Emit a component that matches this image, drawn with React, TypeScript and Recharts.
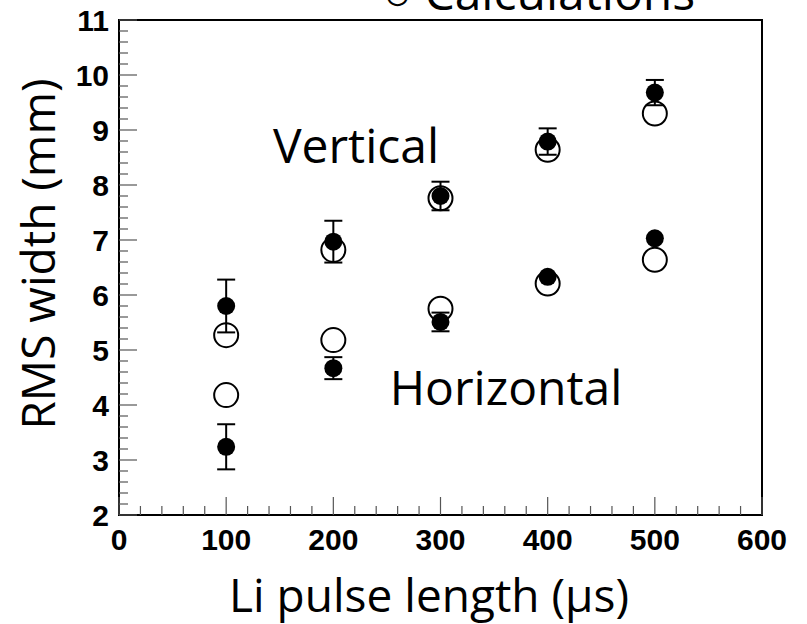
import React from 'react';
import { ScatterChart, Scatter, XAxis, YAxis, ErrorBar, ReferenceArea } from 'recharts';

// Li pulse length (us) and RMS widths (mm)
const pulse = [100, 200, 300, 400, 500];
const vertMeas = [5.8, 6.97, 7.8, 8.79, 9.68];
const vertMeasErr = [0.48, 0.38, 0.26, 0.24, 0.23];
const vertCalc = [5.27, 6.82, 7.76, 8.64, 9.3];
const horMeas = [3.24, 4.67, 5.51, 6.33, 7.03];
const horMeasErr = [0.41, 0.2, 0.17, 0, 0];
const horCalc = [4.18, 5.18, 5.75, 6.21, 6.64];

const xTickLabels = [0, 100, 200, 300, 400, 500, 600];
const yTickLabels = [2, 3, 4, 5, 6, 7, 8, 9, 10, 11];

// minor ticks: 5 per major division
const xTicks: number[] = [];
for (let i = 0; i <= 30; i++) xTicks.push(i * 20);
const yTicks: number[] = [];
for (let i = 0; i <= 45; i++) yTicks.push(Math.round((2 + i * 0.2) * 10) / 10);

const vertMeasData = pulse.map((x, i) => ({ x, y: vertMeas[i], err: vertMeasErr[i] }));
const vertCalcData = pulse.map((x, i) => ({ x, y: vertCalc[i] }));
const horMeasData = pulse.map((x, i) => ({ x, y: horMeas[i], err: horMeasErr[i] }));
const horCalcData = pulse.map((x, i) => ({ x, y: horCalc[i] }));

const tickFont = { fontFamily: '"Liberation Sans", Arial, sans-serif', fontWeight: 700, fontSize: 30, fill: '#000' };
const textFont = { fontFamily: '"Open Sans", sans-serif', fontSize: 48, fill: '#000' };

const XTick = (props: any) => {
    const { x, y, payload } = props;
    const major = xTickLabels.includes(payload.value);
    return (
        <g>
            <line x1={x} x2={x} y1={y} y2={y - (major ? 18 : 9)} stroke="#555" strokeWidth={1.2} />
            {major && (
                <text x={x} y={y + 35} textAnchor="middle" {...tickFont}>
                    {payload.value}
                </text>
            )}
        </g>
    );
};

const YTick = (props: any) => {
    const { x, y, payload } = props;
    const major = yTickLabels.includes(payload.value);
    return (
        <g>
            <line x1={x} x2={x + (major ? 18 : 9)} y1={y} y2={y} stroke="#555" strokeWidth={1.2} />
            {major && (
                <text x={x - 10} y={y + 11} textAnchor="end" {...tickFont}>
                    {payload.value}
                </text>
            )}
        </g>
    );
};

// open circles are hollow so the error bars show through them
const OpenDot = (p: any) => <circle cx={p.cx} cy={p.cy} r={12} fill="none" stroke="#000" strokeWidth={2} />;
const FilledDot = (p: any) => <circle cx={p.cx} cy={p.cy} r={9} fill="#000" />;

const App: React.FC = () => {
    return (
        <div style={{ position: 'absolute', left: 0, top: 0, background: '#fff' }}>
            <ScatterChart width={807} height={624} margin={{ top: 20, right: 45, bottom: 49, left: 59 }}>
                <XAxis
                    type="number"
                    dataKey="x"
                    domain={[0, 600]}
                    ticks={xTicks}
                    interval={0}
                    tick={(p: any) => <XTick {...p} />}
                    tickLine={false}
                    axisLine={false}
                    tickSize={0}
                    tickMargin={0}
                    height={60}
                    allowDataOverflow
                />
                <YAxis
                    type="number"
                    dataKey="y"
                    domain={[2, 11]}
                    ticks={yTicks}
                    interval={0}
                    tick={(p: any) => <YTick {...p} />}
                    tickLine={false}
                    axisLine={false}
                    tickSize={0}
                    tickMargin={0}
                    width={60}
                    allowDataOverflow
                />
                <ReferenceArea x1={0} x2={600} y1={2} y2={11} fill="none" stroke="#000" strokeWidth={2} ifOverflow="visible" />
                <Scatter data={vertCalcData} shape={OpenDot} isAnimationActive={false} />
                <Scatter data={horCalcData} shape={OpenDot} isAnimationActive={false} />
                <Scatter data={vertMeasData} shape={FilledDot} isAnimationActive={false}>
                    <ErrorBar dataKey="err" direction="y" width={9} stroke="#000" strokeWidth={2} isAnimationActive={false} />
                </Scatter>
                <Scatter data={horMeasData} shape={FilledDot} isAnimationActive={false}>
                    <ErrorBar dataKey="err" direction="y" width={9} stroke="#000" strokeWidth={2} isAnimationActive={false} />
                </Scatter>
                <text x={356} y={163} textAnchor="middle" {...textFont}>Vertical</text>
                <text x={506} y={405} textAnchor="middle" {...textFont}>Horizontal</text>
                <text x={383} y={10} textAnchor="start" {...textFont}>○ Calculations</text>
                <text x={429} y={612} textAnchor="middle" {...textFont} fontSize={46}>Li pulse length (μs)</text>
                <text x={55} y={254} textAnchor="middle" transform="rotate(-90 55 254)" {...textFont} fontSize={46}>
                    RMS width (mm)
                </text>
            </ScatterChart>
        </div>
    );
};

export default App;
